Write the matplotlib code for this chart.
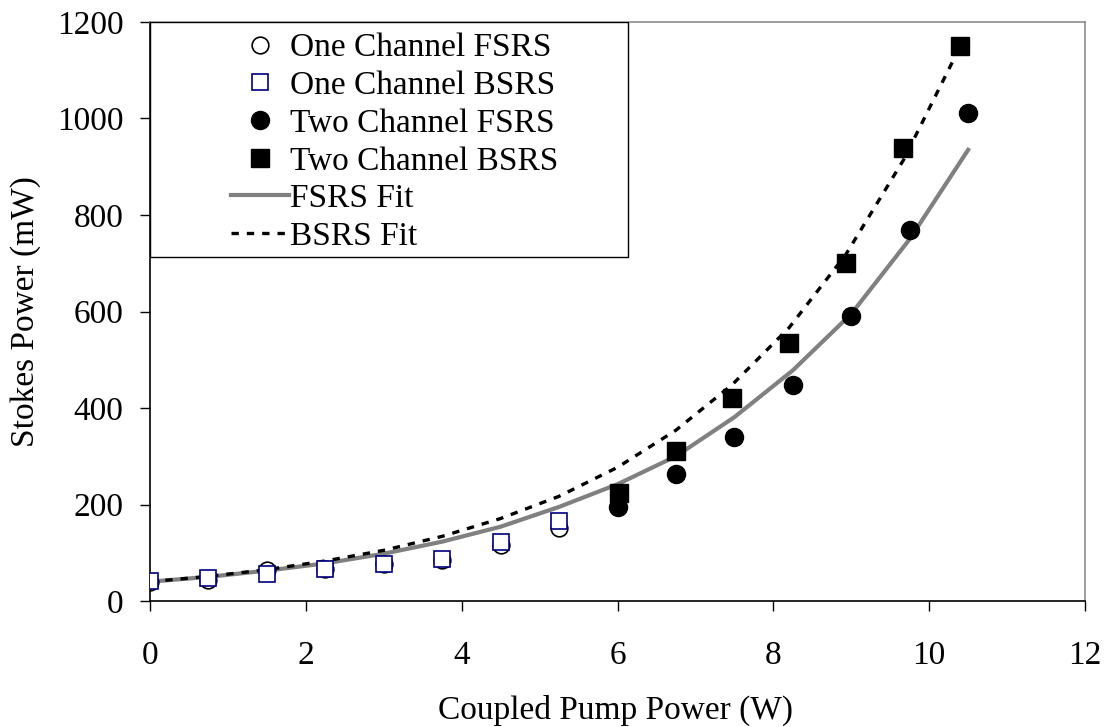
import matplotlib
matplotlib.use("Agg")
import matplotlib.pyplot as plt
from matplotlib.patches import Rectangle

plt.rcParams['font.family'] = ['Liberation Serif', 'DejaVu Serif']

# One channel data
x_one = [0, 0.75, 1.5, 2.25, 3.0, 3.75, 4.5, 5.25]
one_fsrs = [40, 43, 64, 66, 77, 86, 116, 151]
one_bsrs = [42, 47, 56, 66, 77, 88, 123, 166]

# Two channel data
x_two_f = [6.0, 6.75, 7.5, 8.25, 9.0, 9.75, 10.5]
two_fsrs = [195, 264, 339, 447, 591, 769, 1011]
x_two_b = [6.02, 6.75, 7.47, 8.2, 8.93, 9.67, 10.4]
two_bsrs = [223, 311, 420, 534, 700, 938, 1150]

# Fit curves
x_fit_f = [0, 0.75, 1.5, 2.25, 3.0, 3.75, 4.5, 5.25, 6.0, 6.75, 7.5, 8.25, 9.0, 9.75, 10.5]
fit_f = [40, 50, 63, 78, 98, 123, 154, 195, 242, 300, 381, 478, 595, 750, 935]
x_fit_b = [0, 0.75, 1.5, 2.25, 3.0, 3.75, 4.5, 5.25, 6.0, 6.75, 7.47, 8.2, 8.93, 9.67, 10.4]
fit_b = [40, 51, 65, 83, 105, 134, 171, 217, 277, 354, 448, 566, 718, 914, 1150]

labels = ["One Channel FSRS", "One Channel BSRS", "Two Channel FSRS",
          "Two Channel BSRS", "FSRS Fit", "BSRS Fit"]

fig = plt.figure(figsize=(11.05, 7.27), dpi=100)
ax = fig.add_axes([150/1105, 1-601/727, (1085-150)/1105, (601-22)/727])

l_ff, = ax.plot(x_fit_f, fit_f, color='#808080', lw=3, zorder=2)
l_fb, = ax.plot(x_fit_b, fit_b, color='black', lw=2.4, dashes=(2.2, 2.4), zorder=2)
h1, = ax.plot(x_one, one_fsrs, 'o', ms=12, mfc='none', mec='black', mew=1.2, zorder=3)
h2, = ax.plot(x_one, one_bsrs, 's', ms=12, mfc='white', mec='#000080', mew=1.2, zorder=4)
h3, = ax.plot(x_two_f, two_fsrs, 'o', ms=13, mfc='black', mec='black', zorder=3)
h4, = ax.plot(x_two_b, two_bsrs, 's', ms=13, mfc='black', mec='black', zorder=4)

ax.set_xlim(0, 12)
ax.set_ylim(0, 1200)
ax.set_xticks(range(0, 13, 2))
ax.set_yticks(range(0, 1201, 200))
ax.tick_params(direction='out', length=7.2, width=1, labelsize=24)
ax.tick_params(axis='y', pad=12)
ax.tick_params(axis='x', pad=21)
for s in ['left', 'bottom']:
    ax.spines[s].set_color('black')
    ax.spines[s].set_linewidth(1.2)
for s in ['top', 'right']:
    ax.spines[s].set_color('#8c8c8c')
    ax.spines[s].set_linewidth(1.2)

ax.set_xlabel("Coupled Pump Power (W)", fontsize=24, va='center')
ax.xaxis.set_label_coords((615.5-150)/935, (601-710)/579)
ax.set_ylabel("Stokes Power (mW)", fontsize=24, va='center')
ax.yaxis.set_label_coords((26-150)/935, 0.5)

# legend box
ax.add_patch(Rectangle((0, 1), (628-150)/935, -(257-22)/579, transform=ax.transAxes,
                       fill=True, facecolor='white', edgecolor='black', lw=1, zorder=5))
leg = ax.legend([h1, h2, h3, h4, l_ff, l_fb], labels, loc='upper left',
                bbox_to_anchor=(70/935, 1.0), frameon=False, fontsize=24,
                handlelength=1.75, handletextpad=0.02, labelspacing=0.215,
                borderaxespad=0, borderpad=0.33, markerscale=1.0)
leg.set_zorder(6)

fig.savefig("out.png", dpi=100)
